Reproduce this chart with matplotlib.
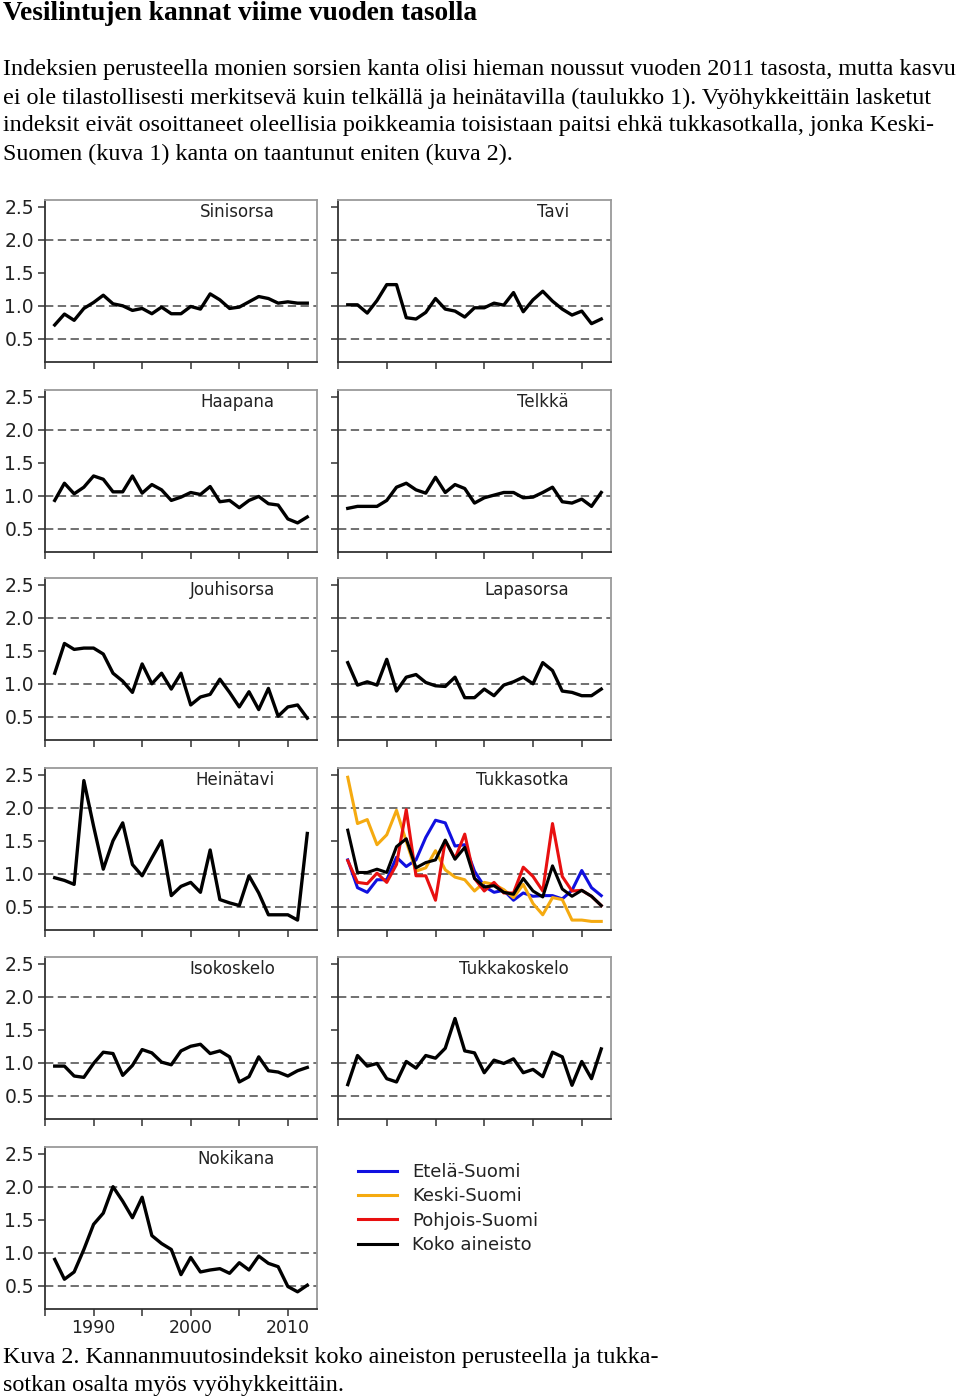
import matplotlib
matplotlib.use('Agg')
import matplotlib.pyplot as plt

plt.rcParams['lines.scale_dashes'] = False

years = list(range(1986, 2013))

sinisorsa = [0.71, 0.875, 0.78, 0.96, 1.05, 1.16, 1.03, 1.0, 0.93, 0.96, 0.88, 0.98, 0.88, 0.88,
             0.99, 0.95, 1.18, 1.09, 0.96, 0.98, 1.06, 1.14, 1.11, 1.04, 1.06, 1.04, 1.04]
tavi = [1.015, 1.015, 0.89, 1.08, 1.32, 1.32, 0.82, 0.80, 0.90, 1.11, 0.95, 0.92, 0.83, 0.97,
        0.97, 1.04, 1.01, 1.20, 0.91, 1.09, 1.22, 1.07, 0.95, 0.86, 0.92, 0.73, 0.80]
haapana = [0.93, 1.19, 1.03, 1.13, 1.30, 1.25, 1.06, 1.06, 1.30, 1.04, 1.17, 1.09, 0.93, 0.98,
           1.05, 1.02, 1.14, 0.91, 0.93, 0.82, 0.93, 0.99, 0.88, 0.86, 0.65, 0.59, 0.68]
telkka = [0.81, 0.84, 0.84, 0.84, 0.93, 1.13, 1.19, 1.09, 1.04, 1.28, 1.05, 1.17, 1.11, 0.89,
          0.97, 1.01, 1.05, 1.05, 0.97, 0.98, 1.05, 1.13, 0.91, 0.89, 0.95, 0.84, 1.05]
jouhisorsa = [1.16, 1.61, 1.52, 1.54, 1.54, 1.45, 1.16, 1.04, 0.87, 1.30, 1.0, 1.16, 0.92, 1.16,
              0.68, 0.80, 0.84, 1.07, 0.87, 0.65, 0.88, 0.61, 0.93, 0.51, 0.65, 0.68, 0.48]
lapasorsa = [1.32, 0.98, 1.03, 0.98, 1.37, 0.89, 1.10, 1.14, 1.02, 0.97, 0.96, 1.10, 0.79, 0.79,
             0.92, 0.82, 0.98, 1.03, 1.10, 1.0, 1.32, 1.20, 0.89, 0.87, 0.82, 0.82, 0.92]
heinatavi = [0.94, 0.90, 0.84, 2.41, 1.72, 1.07, 1.50, 1.77, 1.14, 0.97, 1.24, 1.50, 0.67, 0.81,
             0.87, 0.72, 1.36, 0.61, 0.56, 0.52, 0.97, 0.71, 0.38, 0.38, 0.38, 0.30, 1.61]
tukkasotka_etela = [1.21, 0.79, 0.72, 0.91, 0.91, 1.25, 1.11, 1.21, 1.55, 1.81, 1.77, 1.42, 1.44, 1.04,
                    0.81, 0.72, 0.75, 0.60, 0.71, 0.66, 0.67, 0.67, 0.62, 0.75, 1.05, 0.79, 0.67]
tukkasotka_keski = [2.46, 1.76, 1.82, 1.44, 1.59, 1.96, 1.49, 1.04, 1.09, 1.35, 1.06, 0.95, 0.91, 0.74,
                    0.87, 0.84, 0.76, 0.64, 0.84, 0.55, 0.38, 0.64, 0.61, 0.30, 0.30, 0.28, 0.28]
tukkasotka_pohjois = [1.20, 0.87, 0.85, 1.01, 0.87, 1.14, 1.97, 0.97, 0.97, 0.60, 1.50, 1.23, 1.60, 0.93,
                      0.74, 0.87, 0.71, 0.71, 1.10, 0.96, 0.74, 1.76, 0.96, 0.74, 0.75, 0.66, 0.52]
tukkasotka_koko = [1.66, 1.02, 1.02, 1.07, 1.02, 1.41, 1.53, 1.09, 1.17, 1.21, 1.51, 1.22, 1.40, 0.93,
                   0.80, 0.82, 0.72, 0.69, 0.93, 0.74, 0.65, 1.12, 0.77, 0.66, 0.75, 0.66, 0.52]
isokoskelo = [0.95, 0.95, 0.80, 0.78, 0.99, 1.16, 1.14, 0.81, 0.96, 1.20, 1.15, 1.01, 0.97, 1.18,
              1.25, 1.28, 1.14, 1.18, 1.09, 0.71, 0.79, 1.09, 0.88, 0.86, 0.80, 0.88, 0.93]
tukkakoskelo = [0.67, 1.11, 0.95, 0.99, 0.76, 0.71, 1.02, 0.92, 1.11, 1.07, 1.22, 1.67, 1.18, 1.15,
                0.85, 1.04, 0.99, 1.06, 0.85, 0.90, 0.79, 1.16, 1.09, 0.66, 1.02, 0.76, 1.21]
nokikana = [0.90, 0.60, 0.71, 1.05, 1.43, 1.60, 2.0, 1.78, 1.53, 1.84, 1.26, 1.14, 1.05, 0.67,
            0.93, 0.71, 0.74, 0.76, 0.69, 0.85, 0.74, 0.95, 0.84, 0.79, 0.49, 0.41, 0.51]

panel_names = ["Sinisorsa", "Tavi", "Haapana", "Telkkä", "Jouhisorsa", "Lapasorsa",
               "Heinätavi", "Tukkasotka", "Isokoskelo", "Tukkakoskelo", "Nokikana"]
panel_data = [sinisorsa, tavi, haapana, telkka, jouhisorsa, lapasorsa,
              heinatavi, None, isokoskelo, tukkakoskelo, nokikana]

region_labels = ["Etelä-Suomi", "Keski-Suomi", "Pohjois-Suomi", "Koko aineisto"]
region_series = [tukkasotka_etela, tukkasotka_keski, tukkasotka_pohjois, tukkasotka_koko]
region_colors = ["#1010e0", "#f5aa10", "#e81010", "#000000"]
draw_order = [1, 0, 2, 3]

grid_levels = [0.5, 1.0, 2.0]
y_ticks = [0.5, 1.0, 1.5, 2.0, 2.5]
y_ticklabels = ["0.5", "1.0", "1.5", "2.0", "2.5"]
x_major = [1990, 2000, 2010]
x_minor = [1985, 1995, 2005]

title = "Vesilintujen kannat viime vuoden tasolla"
paragraph = [
    "Indeksien perusteella monien sorsien kanta olisi hieman noussut vuoden 2011 tasosta, mutta kasvu",
    "ei ole tilastollisesti merkitsevä kuin telkällä ja heinätavilla (taulukko 1). Vyöhykkeittäin lasketut",
    "indeksit eivät osoittaneet oleellisia poikkeamia toisistaan paitsi ehkä tukkasotkalla, jonka Keski-",
    "Suomen (kuva 1) kanta on taantunut eniten (kuva 2).",
]
caption = [
    "Kuva 2. Kannanmuutosindeksit koko aineiston perusteella ja tukka-",
    "sotkan osalta myös vyöhykkeittäin.",
]

W, H = 960, 1399
fig = plt.figure(figsize=(W / 100, H / 100), dpi=100)
fig.patch.set_facecolor('white')

serif = ['Liberation Serif', 'DejaVu Serif']
sans = ['DejaVu Sans']

fig.text(3 / W, 1 - 14 / H, title, family=serif, fontweight='bold', fontsize=19.7,
         va='center', ha='left')
for i, line in enumerate(paragraph):
    fig.text(3 / W, 1 - (70 + 28 * i) / H, line, family=serif, fontsize=17.4,
             va='center', ha='left')
for i, line in enumerate(caption):
    fig.text(3 / W, 1 - (1358 + 28 * i) / H, line, family=serif, fontsize=17.4,
             va='center', ha='left')

col_x = [45, 338]
col_w = [272, 273]
row_top = [200, 390, 578, 768, 957, 1147]
ph = 162

def add_ax(x, y, w, h):
    return fig.add_axes([x / W, 1 - (y + h) / H, w / W, h / H])

handles = []
for k, name in enumerate(panel_names):
    r, c = divmod(k, 2)
    ax = add_ax(col_x[c], row_top[r], col_w[c], ph)
    ax.set_xlim(1985, 2013)
    ax.set_ylim(0.15, 2.6)
    for g in grid_levels:
        ax.axhline(g, color='#707070', lw=1.4, linestyle=(0, (6, 3.2)), zorder=1)
    if panel_data[k] is not None:
        ax.plot(years, panel_data[k], color='black', lw=2.4, zorder=3)
    else:
        hd = {}
        for j in draw_order:
            ln, = ax.plot(years, region_series[j], color=region_colors[j], lw=2.2, zorder=3 + j)
            hd[j] = ln
        handles = [hd[j] for j in range(4)]
    ax.text(0.845, 0.925, name, transform=ax.transAxes, ha='right', va='center',
            fontsize=12, family=sans, color='#222222')
    for s in ['left', 'bottom']:
        ax.spines[s].set_color('#333333')
        ax.spines[s].set_linewidth(1.3)
    for s in ['top', 'right']:
        ax.spines[s].set_color('#9a9a9a')
        ax.spines[s].set_linewidth(1.3)
    ax.set_yticks(y_ticks)
    ax.set_xticks(x_major)
    ax.set_xticks(x_minor, minor=True)
    ax.tick_params(axis='both', which='both', direction='out', length=5, width=1.1,
                   color='#333333', top=False, right=False)
    if c == 0:
        ax.set_yticklabels(y_ticklabels, fontsize=13.5, family=sans, color='#222222')
    else:
        ax.set_yticklabels([])
    if k == 10:
        ax.set_xticklabels([str(v) for v in x_major], fontsize=12.5, family=sans, color='#222222')
    else:
        ax.set_xticklabels([])
    ax.tick_params(axis='y', pad=3)
    ax.tick_params(axis='x', pad=2)
    ax.set_facecolor('white')

fig.legend(handles, region_labels, loc='upper left',
           bbox_to_anchor=(358 / W, 1 - 1163 / H), frameon=False, borderpad=0,
           borderaxespad=0, handlelength=2.17, handletextpad=0.83, labelspacing=0.35,
           prop={'family': 'DejaVu Sans', 'size': 13}, labelcolor='#222222')

fig.savefig('out.png', dpi=100, facecolor='white')
